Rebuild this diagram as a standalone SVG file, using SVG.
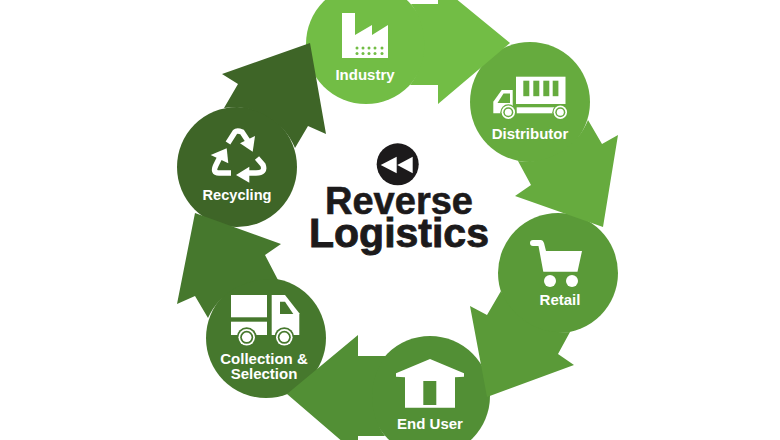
<svg xmlns="http://www.w3.org/2000/svg" width="780" height="440" viewBox="0 0 780 440">
<style>
.lbl{font-family:"Liberation Sans",Arial,sans-serif;font-weight:700;font-size:15px;fill:#fff;text-anchor:middle}
.ttl{font-family:"Liberation Sans",Arial,sans-serif;font-weight:700;fill:#1c1a1b;stroke:#1c1a1b;text-anchor:middle}
.w{fill:#fff}
.c1{fill:#72bd45}.c2{fill:#66ab3e}.c3{fill:#5a9a38}.c4{fill:#528f35}.c5{fill:#46782d}.c6{fill:#3e6527}
</style>
<rect width="780" height="440" fill="#fff"/>
<g id="industry">
<circle class="c1" cx="366" cy="44" r="60"/>
<path class="w" d="M342,13H355V35L372,25V35L388,25V58H342Z"/>
<g class="c1"><circle cx="357" cy="48" r="1.5"/><circle cx="363" cy="48" r="1.5"/><circle cx="369" cy="48" r="1.5"/><circle cx="375" cy="48" r="1.5"/><circle cx="382" cy="48" r="1.5"/><circle cx="357" cy="53.500" r="1.5"/><circle cx="363" cy="53.500" r="1.5"/><circle cx="369" cy="53.500" r="1.5"/><circle cx="375" cy="53.500" r="1.5"/><circle cx="382" cy="53.500" r="1.500"/></g>
<text class="lbl" x="365" y="80">Industry</text>
</g>
<g id="distributor">
<circle class="c2" cx="530" cy="102" r="60"/>
<rect class="w" x="516" y="76.700" width="49.500" height="27.300"/>
<g class="c2"><rect x="523.300" y="80.700" width="6" height="15.500"/><rect x="533.300" y="80.700" width="6" height="15.500"/><rect x="543.300" y="80.700" width="6" height="15.500"/><rect x="552.700" y="80.700" width="5.700" height="15.500"/></g>
<rect class="w" x="516.700" y="107.300" width="40" height="6"/>
<path class="w" d="M493.300,113.300V101.700L501.700,90H512.700V113.300Z"/>
<path class="c2" d="M497.500,103L503.500,93.500H510V103Z"/>
<g class="c2"><circle cx="508.300" cy="112.300" r="8"/><circle cx="560.300" cy="112.300" r="8"/></g>
<g class="w"><circle cx="508.300" cy="112.300" r="6.700"/><circle cx="560.300" cy="112.300" r="6.700"/></g>
<g class="c2"><circle cx="508.300" cy="112.300" r="5"/><circle cx="560.300" cy="112.300" r="5"/></g>
<g class="w"><circle cx="508.300" cy="112.300" r="3.500"/><circle cx="560.300" cy="112.300" r="3.500"/></g>
<text class="lbl" x="530" y="139">Distributor</text>
</g>
<g id="retail">
<circle class="c3" cx="558" cy="273" r="60"/>
<path class="w" d="M533,240H541Q543,240 544,243L546,251H582L577.500,271.700H543.300L538.500,246H533A3,3 0 0 1 533,240Z"/>
<circle class="w" cx="550" cy="281" r="6"/><circle class="w" cx="572" cy="281" r="6"/>
<text class="lbl" x="560" y="305">Retail</text>
</g>
<g id="end-user">
<circle class="c4" cx="430" cy="396" r="60"/>
<path class="w" d="M396,373.300L430,359L464,373.300V376.700L455,377.300V407.700H405V377.300L396,376.700Z"/>
<rect class="c4" x="423.300" y="381" width="13" height="24"/>
<text class="lbl" x="430" y="429.300">End User</text>
</g>
<g id="collection">
<circle class="c5" cx="266" cy="338" r="60"/>
<rect class="w" x="231" y="295" width="36" height="22.300"/>
<rect class="w" x="231" y="321.700" width="36" height="13.300"/>
<path class="w" d="M271.700,295H285L299.300,313.300V335H271.700Z"/>
<path class="c5" d="M280,301.700H285L293.300,314H280Z"/>
<g class="c5"><circle cx="246.700" cy="337.300" r="10"/><circle cx="284.300" cy="337.300" r="10"/></g>
<g class="w"><circle cx="246.700" cy="337.300" r="8.300"/><circle cx="284.300" cy="337.300" r="8.300"/></g>
<g class="c5"><circle cx="246.700" cy="337.300" r="6.500"/><circle cx="284.300" cy="337.300" r="6.500"/></g>
<g class="w"><circle cx="246.700" cy="337.300" r="4.800"/><circle cx="284.300" cy="337.300" r="4.800"/></g>
<text class="lbl"><tspan x="264" y="363.500">Collection &amp;</tspan><tspan x="264" y="378.500">Selection</tspan></text>
</g>
<g id="recycling">
<circle class="c6" cx="237" cy="167" r="60"/>
<g fill="none" stroke="#fff" stroke-width="5.500"><path d="M228,143L235,132Q237,130 242,132L248,141"/><path d="M220,157L216,165Q212,173 219,173L231,173"/><path d="M248,173L256,173Q266,173 263,165L257,158"/></g>
<path class="w" d="M255,136L252.700,151.700L240,143.300Z"/>
<path class="w" d="M210.700,155L226.700,148.300L228.300,163.300Z"/>
<path class="w" d="M236,175L249.300,166.700V182.700Z"/>
<text class="lbl" x="237" y="200" style="font-size:14.600px">Recycling</text>
</g>
<g id="connectors">
<path class="c1" d="M411,4H438V-16L510,43L438,104V85H410A66,66 0 0 0 411,4Z"/>
<path class="c2" d="M588,120L602,144L618,135L603,227L515,196L531,185L518,161A66,66 0 0 0 588,120Z"/>
<path class="c3" d="M570,332L558,354L574,365L487,397L470,306L487,315L501,291A66,66 0 0 0 570,332Z"/>
<path class="c4" d="M385,436H358V455L287,394L358,335V356H386A66,66 0 0 0 385,436Z"/>
<path class="c5" d="M278,280L265,255L281,244L195,213L177,304L195,296L208,318A66,66 0 0 1 278,280Z"/>
<path class="c6" d="M295,148L308,126L326,134L310,43L222,74L238,84L224,108A66,66 0 0 1 295,148Z"/>
</g>
<g id="title">
<circle cx="397.700" cy="164.300" r="21" fill="#1c1a1b"/>
<path class="w" d="M380.700,165L396.700,156.700V173.300Z"/>
<path class="w" d="M397.300,165L412.700,156.700V173.300Z"/>
<text class="ttl"><tspan x="399" y="214.300" font-size="38" stroke-width="0.600">Reverse</tspan><tspan x="399" y="246.700" font-size="41" stroke-width="0.900">Logistics</tspan></text>
</g>
</svg>
